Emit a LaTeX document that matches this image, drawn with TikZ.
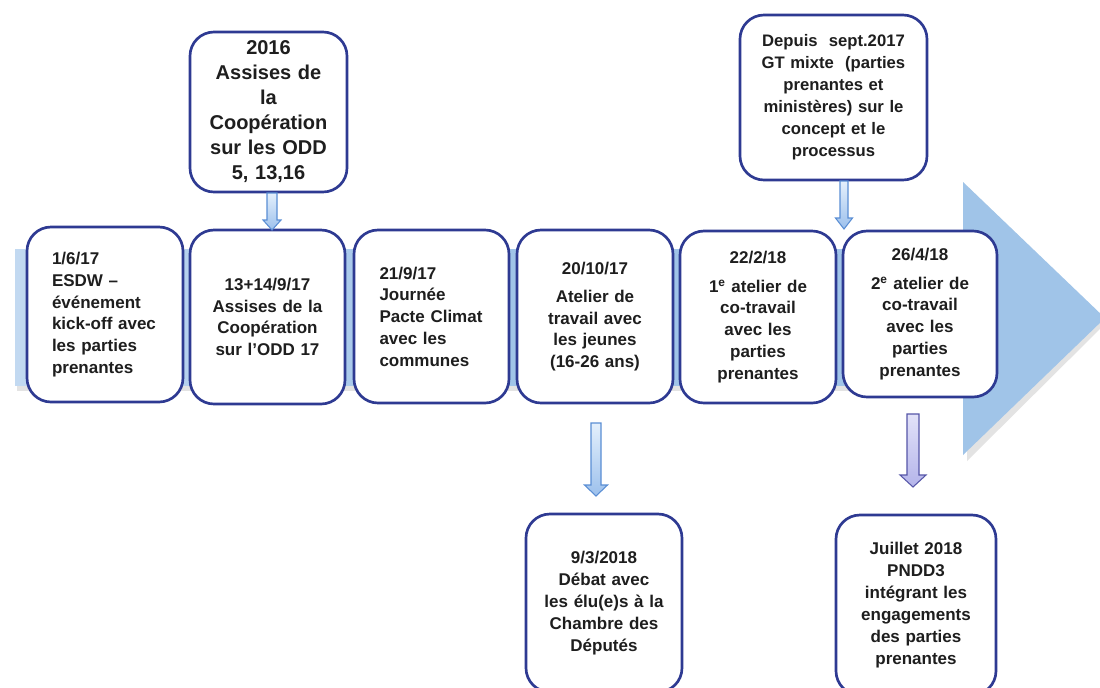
\documentclass[tikz,border=0pt]{standalone}
\usepackage{fontspec}
\setmainfont{Liberation Sans}
\usetikzlibrary{calc}
\definecolor{boxblue}{HTML}{2E3A92}
\definecolor{bandblue}{HTML}{A0C4E8}
\definecolor{bandlight}{HTML}{C2D9F1}
\definecolor{txt}{HTML}{1E1E1E}
\definecolor{arrtop}{HTML}{E4F0FC}
\definecolor{arrbot}{HTML}{9CC0EC}
\definecolor{arrdraw}{HTML}{5A8ED4}
\definecolor{purtop}{HTML}{E2E2F8}
\definecolor{purbot}{HTML}{B4B4EA}
\definecolor{purdraw}{HTML}{5656A8}
\newcommand\blkarrow[7]{%
  \path[#1] (#2-#5,#3) -- (#2+#5,#3) -- (#2+#5,#4-#7) -- (#2+#6,#4-#7) -- (#2,#4)
    -- (#2-#6,#4-#7) -- (#2-#5,#4-#7) -- cycle;}
\begin{document}
\begin{tikzpicture}[x=0.75pt,y=-0.75pt,
  evbox/.style={draw=boxblue, line width=2pt, rounded corners=18pt, fill=white,
    text=txt, inner sep=0pt, font=\bfseries\fontsize{12.75}{16.3}\selectfont},
  bluearrow/.style={top color=arrtop, bottom color=arrbot, draw=arrdraw, line width=0.8pt},
  purplearrow/.style={top color=purtop, bottom color=purbot, draw=purdraw, line width=0.8pt}]
\fill[white] (0,0) rectangle (1100,687);
\useasboundingbox (0,0) rectangle (1100,687);
% timeline band with shadow
\fill[gray!22] (17,252) rectangle (965,391);
\fill[gray!22] (967,186) -- (1107,322) -- (967,461) -- cycle;
\shade[left color=bandlight, right color=bandblue, middle color=bandblue] (15,249) rectangle (963,385);
\fill[bandblue] (963,182) -- (1105,318) -- (963,455) -- cycle;
% timeline boxes
\node[evbox, minimum width=117pt, minimum height=131.25pt, text width=79.5pt, align=left] (b1) at (105,314.5)
  {1/6/17\\ESDW –\\événement\\kick-off avec\\les parties\\prenantes};
\node[evbox, minimum width=116.25pt, minimum height=130.5pt, text width=105pt, align=center] (b2) at (267.5,317)
  {13+14/9/17\\Assises de la\\Coopération\\sur l’ODD 17};
\node[evbox, minimum width=116.25pt, minimum height=129.75pt, text width=78pt, align=left] (b3) at (431.5,316.5)
  {21/9/17\\Journée\\Pacte Climat\\avec les\\communes};
\node[evbox, minimum width=117pt, minimum height=129.75pt, text width=105pt, align=center] (b4) at (595,316.5)
  {20/10/17\\[5pt]Atelier de\\travail avec\\les jeunes\\(16-26 ans)};
\node[evbox, minimum width=117pt, minimum height=129pt, text width=105pt, align=center] (b5) at (758,317)
  {22/2/18\\[5pt]1\textsuperscript{e} atelier de\\co-travail\\avec les\\parties\\prenantes};
\node[evbox, minimum width=115.5pt, minimum height=124.5pt, text width=105pt, align=center] (b6) at (920,314)
  {26/4/18\\[5pt]2\textsuperscript{e} atelier de\\co-travail\\avec les\\parties\\prenantes};
% upper boxes
\node[evbox, minimum width=117.75pt, minimum height=120pt, text width=108pt, align=center,
  font=\bfseries\fontsize{15}{18.75}\selectfont] (ba) at (268.5,112)
  {2016\\Assises de\\la\\Coopération\\sur les ODD\\5, 13,16};
\node[evbox, minimum width=140.25pt, minimum height=123.75pt, text width=130pt, align=center,
  font=\bfseries\fontsize{12.5}{16.5}\selectfont] (bb) at (833.5,97.5)
  {Depuis\ \ sept.2017\\GT mixte\ \ (parties\\prenantes et\\ministères) sur le\\concept et le\\processus};
% lower boxes
\node[evbox, minimum width=117pt, minimum height=133.5pt, text width=108pt, align=center,
  font=\bfseries\fontsize{12.75}{16.5}\selectfont] (bc) at (604,603)
  {9/3/2018\\Débat avec\\les élu(e)s à la\\Chambre des\\Députés};
\node[evbox, minimum width=120pt, minimum height=135pt, text width=110pt, align=center,
  font=\bfseries\fontsize{12.75}{16.5}\selectfont] (bd) at (916,605)
  {Juillet 2018\\PNDD3\\intégrant les\\engagements\\des parties\\prenantes};
% block arrows
\blkarrow{bluearrow}{272}{193}{230}{5}{9}{10}
\blkarrow{bluearrow}{844}{181}{229}{4}{8.5}{11}
\blkarrow{bluearrow}{596}{423}{496}{5}{11.5}{11}
\blkarrow{purplearrow}{913}{414}{487}{6}{13}{12}
\end{tikzpicture}
\end{document}
